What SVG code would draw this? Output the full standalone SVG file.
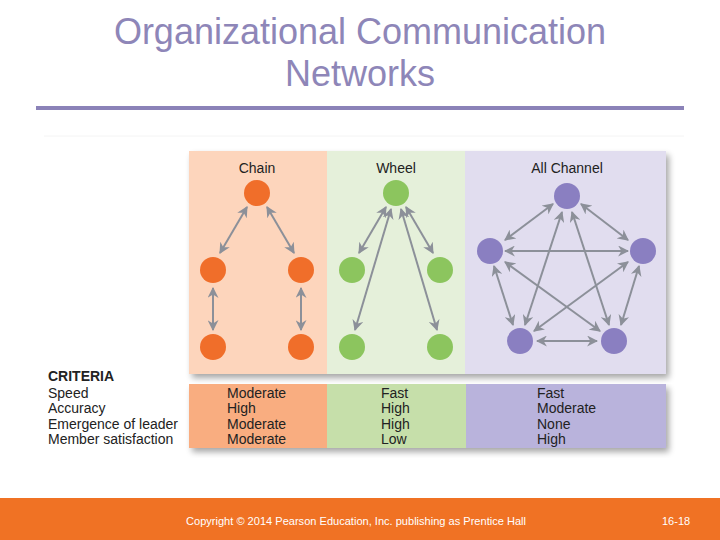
<svg xmlns="http://www.w3.org/2000/svg" width="720" height="540" viewBox="0 0 720 540">
<defs>
<marker id="ah" viewBox="0 0 10 10" refX="9" refY="5" markerWidth="5.5" markerHeight="5.5" orient="auto-start-reverse" markerUnits="strokeWidth">
<path d="M0,0 L10,5 L0,10 L3,5 z" fill="#8c9099"/>
</marker>
<filter id="sh" x="-5%" y="-5%" width="115%" height="120%">
<feGaussianBlur in="SourceAlpha" stdDeviation="3"/>
<feOffset dx="3" dy="4"/>
<feComponentTransfer><feFuncA type="linear" slope="0.35"/></feComponentTransfer>
<feMerge><feMergeNode/><feMergeNode in="SourceGraphic"/></feMerge>
</filter>
</defs>
<style>
.title{font-family:"Liberation Sans",Arial,sans-serif;font-size:36px;fill:#8e86b8;text-anchor:middle}
.hd{font-family:"Liberation Sans",Arial,sans-serif;font-size:14px;fill:#222;text-anchor:middle}
.crit{font-family:"Liberation Sans",Arial,sans-serif;font-size:14px;fill:#222}
.edge{stroke:#8c9099;stroke-width:2;fill:none;marker-start:url(#ah);marker-end:url(#ah)}
.o{fill:#f06e2a}.g{fill:#8cc55e}.p{fill:#8a7fc1}
.foot{font-family:"Liberation Sans",Arial,sans-serif;font-size:11px;fill:#fff}
</style>
<rect width="720" height="540" fill="#fff"/>
<text class="title" x="360" y="44">Organizational Communication</text>
<text class="title" x="360" y="86">Networks</text>
<rect x="36" y="106" width="648" height="4" fill="#8b82b8"/>
<line x1="44" y1="136" x2="684" y2="136" stroke="#f4f4f4" stroke-width="1"/>

<g filter="url(#sh)">
<rect x="189" y="151" width="138" height="223" fill="#fdd5bc"/>
<rect x="327" y="151" width="138" height="223" fill="#e5f0da"/>
<rect x="465" y="151" width="201" height="223" fill="#e1ddef"/>
</g>
<g filter="url(#sh)">
<rect x="189" y="384" width="138" height="64" fill="#f9ad80"/>
<rect x="327" y="384" width="139" height="64" fill="#c6dfaa"/>
<rect x="466" y="384" width="200" height="64" fill="#b9b3dc"/>
</g>

<text class="hd" x="257" y="173">Chain</text>
<text class="hd" x="396" y="173">Wheel</text>
<text class="hd" x="567" y="173">All Channel</text>

<g id="connectors">
<line class="edge" x1="247" y1="207" x2="220" y2="253"/>
<line class="edge" x1="267" y1="207" x2="294" y2="253"/>
<line class="edge" x1="213" y1="288" x2="213" y2="330"/>
<line class="edge" x1="301" y1="288" x2="301" y2="330"/>
<line class="edge" x1="386" y1="207" x2="359" y2="253"/>
<line class="edge" x1="406" y1="207" x2="433" y2="253"/>
<line class="edge" x1="391" y1="209" x2="355" y2="330"/>
<line class="edge" x1="401" y1="209" x2="437" y2="330"/>
<line class="edge" x1="553" y1="204" x2="505" y2="240"/>
<line class="edge" x1="581" y1="204" x2="628" y2="240"/>
<line class="edge" x1="505" y1="251" x2="628" y2="251"/>
<line class="edge" x1="562" y1="212" x2="525" y2="325"/>
<line class="edge" x1="572" y1="212" x2="609" y2="325"/>
<line class="edge" x1="494" y1="266" x2="513" y2="325"/>
<line class="edge" x1="639" y1="266" x2="621" y2="325"/>
<line class="edge" x1="505" y1="262" x2="600" y2="331"/>
<line class="edge" x1="628" y1="262" x2="534" y2="331"/>
<line class="edge" x1="537" y1="341" x2="597" y2="341"/>
</g>

<g id="chain-top"><circle class="o" cx="257" cy="193" r="13"/></g>
<g id="chain-ml"><circle class="o" cx="213" cy="270" r="13"/></g>
<g id="chain-mr"><circle class="o" cx="301" cy="270" r="13"/></g>
<g id="chain-bl"><circle class="o" cx="213" cy="347" r="13"/></g>
<g id="chain-br"><circle class="o" cx="301" cy="347" r="13"/></g>

<g id="wheel-top"><circle class="g" cx="396" cy="193" r="13"/></g>
<g id="wheel-ml"><circle class="g" cx="352" cy="270" r="13"/></g>
<g id="wheel-mr"><circle class="g" cx="440" cy="270" r="13"/></g>
<g id="wheel-bl"><circle class="g" cx="352" cy="347" r="13"/></g>
<g id="wheel-br"><circle class="g" cx="440" cy="347" r="13"/></g>

<g id="all-top"><circle class="p" cx="567" cy="196" r="13"/></g>
<g id="all-left"><circle class="p" cx="490" cy="251" r="13"/></g>
<g id="all-right"><circle class="p" cx="643" cy="251" r="13"/></g>
<g id="all-bl"><circle class="p" cx="520" cy="341" r="13"/></g>
<g id="all-br"><circle class="p" cx="614" cy="341" r="13"/></g>

<g id="criteria">
<text class="crit" x="48" y="381" font-weight="bold" font-size="13">CRITERIA</text>
<text class="crit" x="48" y="398">Speed</text>
<text class="crit" x="48" y="413">Accuracy</text>
<text class="crit" x="48" y="429">Emergence of leader</text>
<text class="crit" x="48" y="444">Member satisfaction</text>
<text class="crit" x="227" y="398">Moderate</text>
<text class="crit" x="227" y="413">High</text>
<text class="crit" x="227" y="429">Moderate</text>
<text class="crit" x="227" y="444">Moderate</text>
<text class="crit" x="381" y="398">Fast</text>
<text class="crit" x="381" y="413">High</text>
<text class="crit" x="381" y="429">High</text>
<text class="crit" x="381" y="444">Low</text>
<text class="crit" x="537" y="398">Fast</text>
<text class="crit" x="537" y="413">Moderate</text>
<text class="crit" x="537" y="429">None</text>
<text class="crit" x="537" y="444">High</text>
</g>

<rect x="0" y="498" width="720" height="42" fill="#f07224"/>
<text class="foot" x="186" y="525" textLength="340" lengthAdjust="spacingAndGlyphs">Copyright © 2014 Pearson Education, Inc. publishing as Prentice Hall</text>
<text class="foot" x="662" y="525" font-size="12">16-18</text>
</svg>
